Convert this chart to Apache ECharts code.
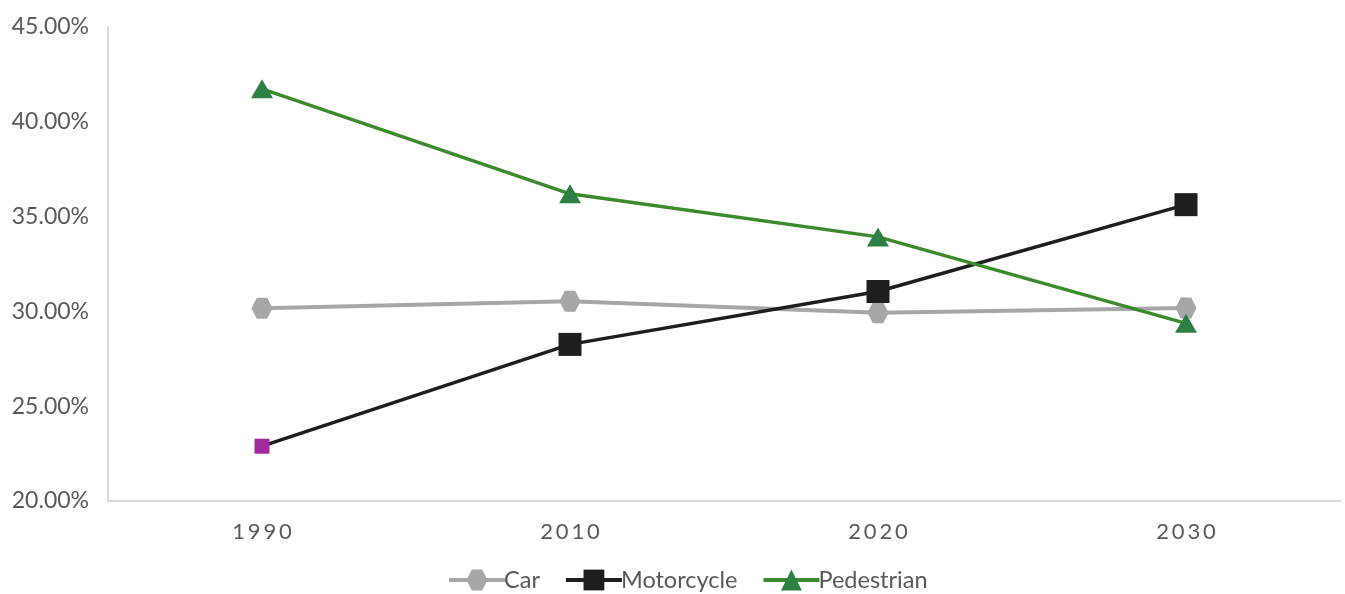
<!DOCTYPE html>
<html><head><meta charset="utf-8">
<script src="https://cdn.jsdelivr.net/npm/echarts@6/dist/echarts.min.js"></script>
<style>html,body{margin:0;padding:0;background:#fff}#c{width:1345px;height:594px}</style>
</head><body><div id="c"></div>
<script>
var categories = ['1990', '2010', '2020', '2030'];
var carValues = [30.16, 30.53, 29.93, 30.18];
var motorcycleValues = [22.89, 28.26, 31.05, 35.63];
var pedestrianValues = [41.74, 36.2, 33.93, 29.37];
var yTicks = [20, 25, 30, 35, 40, 45];

var hexagon = 'path://M0,5 L2.5,0.67 L7.5,0.67 L10,5 L7.5,9.33 L2.5,9.33 Z';
var txt = '#595959';
var font = 'Lato, "Open Sans", sans-serif';

var motoData = motorcycleValues.map(function (v, i) {
  if (i === 0) return { value: v, symbolSize: 15, itemStyle: { color: '#a22a9c' } };
  return v;
});

var chart = echarts.init(document.getElementById('c'));
chart.setOption({
  animation: false,
  grid: { left: 108, right: 5, top: 27, bottom: 93, containLabel: false },
  legend: {
    top: 563,
    left: 442,
    itemWidth: 56,
    itemHeight: 26,
    itemGap: 24,
    textStyle: { color: txt, fontSize: 23.5, fontFamily: font, padding: [0, 0, 0, -6] },
    data: [
      { name: 'Car', lineStyle: { width: 4 } },
      { name: 'Motorcycle', lineStyle: { width: 4 } },
      { name: 'Pedestrian', lineStyle: { width: 4 } }
    ]
  },
  xAxis: {
    type: 'category',
    data: categories,
    boundaryGap: true,
    axisLine: { lineStyle: { color: '#d9d9d9', width: 2 } },
    axisTick: { show: false },
    axisLabel: { color: txt, fontSize: 22, fontFamily: font, margin: 20,
      formatter: function (v) { return v.split('').join('\u2009'); } }
  },
  yAxis: {
    type: 'value',
    min: yTicks[0],
    max: yTicks[yTicks.length - 1],
    interval: 5,
    axisLine: { show: true, lineStyle: { color: '#d9d9d9', width: 2 } },
    axisTick: { show: false },
    splitLine: { show: false },
    axisLabel: { color: txt, fontSize: 23, fontFamily: font, margin: 19,
      formatter: function (v) { return v.toFixed(2) + '%'; } }
  },
  series: [
    { name: 'Car', type: 'line', data: carValues, symbol: hexagon, symbolSize: 21,
      itemStyle: { color: '#a6a6a6' }, lineStyle: { color: '#a6a6a6', width: 4 } },
    { name: 'Motorcycle', type: 'line', data: motoData, symbol: 'rect', symbolSize: 23,
      itemStyle: { color: '#1e1e1e' }, lineStyle: { color: '#1e1e1e', width: 3.5 } },
    { name: 'Pedestrian', type: 'line', data: pedestrianValues, symbol: 'triangle', symbolSize: [22, 19],
      itemStyle: { color: '#2b8042' }, lineStyle: { color: '#3b8a2c', width: 3.5 } }
  ]
});
</script>
</body></html>
